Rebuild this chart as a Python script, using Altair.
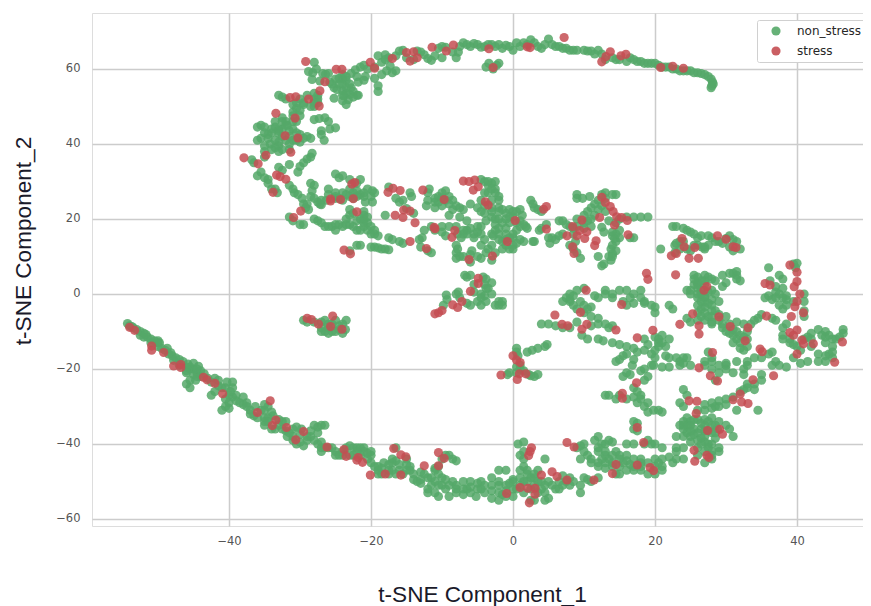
import altair as alt
import pandas as pd

top_arc = [(-18,63.8),(-17.5,63),(-16.5,63.5),(-16,64.8),(-15.5,65),(-15,63),(-14,62.5),(-13.5,64.8),(-13,64.5),(-12.5,63.8),(-12,62.8),(-11.5,62.3),(-11,63.5),(-10.5,65.5),(-10,66),(-10,63),(-9.5,65.8),(-8.5,64.5),(-8,63),(-7.7,64.5),(-7.5,66),(-7,67),(-6.5,66.5),(-6,66),(-5.5,66.8),(-5,66.5),(-4.5,65.8),(-4,66),(-3.5,66.5),(-3,66.5),(-2.5,66),(-2,66.5),(-1.5,65.5),(-1,66.3),(-0.5,66),(0,65),(0.5,67),(1,66),(1.5,67),(2,66.5),(2.5,67.8),(3,67),(3.5,66),(4,65.5),(4.5,66.5),(5,68),(5.5,66.5),(6,66),(6.5,66),(7,65.5),(7.5,65.5),(8,65),(8.5,65),(9,65),(10,65),(10.5,64.8),(11,64.8),(11.5,64),(12,65),(12.5,64),(13,62.5),(14,63),(14.5,62.5),(15,62.5),(16,62),(16.5,63),(17,62.5),(17.5,62),(18,62),(18.5,61.5),(19,61.5),(19.5,61.5),(20,61.5),(20.5,61),(21,60.5),(21.5,60.5),(22,60.5),(22.5,60),(23,60),(23.5,59.5),(24,59.5),(24.5,59.5),(25,59.5),(25.5,59),(26,59),(26.5,58.8),(27,58.5),(27.5,58),(27.9,57.3),(28.1,56.5),(28.2,56),(28,55.5),(27.9,55),(-3.8,60.5),(-3.4,61.5),(-2.8,60),(-2,61.5),(-2.3,61)]
upper_left = [(-28.8,59.3),(-28.2,59),(-28,61.8),(-27.7,60),(-28.3,57.2),(-27.2,56.8),(-26.8,58.8),(-26.4,58.6),(-26,58.8),(-25.8,56.5),(-25,57.3),(-24.5,57.5),(-24,57.4),(-23.5,57),(-25.2,55),(-24.8,54.5),(-24,54.2),(-23.5,55),(-22.8,55),(-22.5,54),(-23,53.2),(-23.8,52.8),(-23.2,51.8),(-22,53),(-21.8,56.5),(-22,58),(-22.8,58.8),(-22.2,59.8),(-21.5,60.5),(-21,61),(-20.8,58),(-21,57),(-19.5,57.5),(-19,55.5),(-19,54),(-18.5,58.5),(-17.8,59.5),(-17.3,60.8),(-17,59),(-16.5,59.5),(-25.2,52.2),(-24,51.5),(-23.5,50.5),(-21.8,53),(-24,56),(-23,56),(-25.5,56),(-20.5,60),(-19.5,60.5),(-18.5,61.8),(-18,62.5),(-19,63.5)]
left_lobe = [(-33,53),(-32.5,52.5),(-32,52),(-30.5,51),(-30,52),(-29,53),(-30.5,49.5),(-31,48.5),(-31,47.5),(-32,46),(-31.8,45),(-32.5,44),(-31.5,43.5),(-33.5,46),(-35.5,45),(-36,44.5),(-35,44.5),(-35,43),(-35.5,41.5),(-36,41),(-34.5,41.5),(-34,43),(-33,42.8),(-33,40.5),(-33.5,41),(-32.5,46),(-31,44),(-30.5,43),(-30,42.5),(-29.5,41.5),(-29,42),(-28.5,41.5),(-30,40.5),(-31.5,40),(-32.5,38.5),(-33.5,39),(-34,38.5),(-35,38),(-35,36.5),(-33,39.5),(-31.5,38.5),(-28.5,50),(-28,50),(-27.5,52),(-27.5,53),(-28,53.5),(-28,46.5),(-27.3,46.8),(-26.5,47),(-26,46),(-27,43.5),(-27,42.5),(-26.6,41),(-25.8,44),(-25,44.3),(-29,36),(-28.5,36.5),(-28.3,37.5),(-29.5,35),(-30,34),(-30.3,32.5),(-31.5,34.5),(-32.5,33),(-33,33.8),(-35.5,32.5),(-36,31.5),(-35,31),(-34.5,30.5),(-34.5,29.5),(-34,28),(-33.2,27),(-33.5,28),(-31.5,29),(-31,28),(-30.8,27),(-30.3,26.5),(-29.7,25.5),(-29.5,24),(-29,24),(-29.2,23),(-28.8,22.5),(-36.8,35.8),(-36.5,35),(-31,19.5),(-30,18.5),(-29.5,18.5),(-31.5,20.5)]
mid_left = [(-25,32),(-24.5,31),(-24,31.5),(-23,30.5),(-22,29.5),(-21.5,30.5),(-28.5,29.5),(-28,29),(-28.3,27.5),(-28.5,26),(-28,25.5),(-27.5,24.5),(-27,25),(-26.3,25),(-26,28),(-26,26.5),(-25,25.5),(-25,27),(-24,27),(-23.5,26.5),(-23,28),(-22.5,27),(-22,27.5),(-21.5,26.5),(-21,26),(-20.8,24.5),(-21,27),(-20.5,28),(-19.8,27.5),(-20,26),(-19.8,24.5),(-19.5,27),(-27,23.8),(-27.2,24),(-17.5,28.5),(-14.5,27),(-14.3,26),(-15.5,25),(-16,24.5),(-16.5,25.5),(-12,27),(-11.8,28),(-12,25),(-12.2,23.5),(-11,24.5),(-11,23),(-10.5,26),(-10,27),(-9.5,27.5),(-9,26),(-9,24),(-8.5,25),(-8,23.5),(-10,23.5),(-8.5,22.5),(-7.5,23),(-7,22.5),(-6,24),(-7.5,20.5),(-9,21),(-23,22.5),(-23,21),(-22,19.5),(-21,22),(-21,21),(-21,20),(-21,19),(-21,18),(-20.5,17),(-20,16),(-19.5,16),(-19,15.5),(-22.5,21.5),(-23.5,20),(-28,20),(-27.5,19.5),(-27,19),(-26.5,18),(-25.5,18),(-25,17),(-25,18.5),(-24.5,18.5),(-24,18),(-23.5,18.5),(-23,18.5),(-22.5,18),(-22,17),(-18,21),(-17.5,15),(-17,14.5),(-16,14),(-15.5,13.5),(-15,22.8),(-14,21.5),(-13.2,14.5),(-12.8,15),(-13,12.5),(-12,11.5),(-11.5,11),(-12.5,17),(-11.5,18),(-11,17),(-10,18),(-10,16.5),(-9.5,15.5),(-9,18),(-8,18),(-7.8,16),(-7.3,15),(-7,16),(-6.5,17),(-6,17.5),(-5.5,16),(-5.5,15),(-5,18),(-4.5,18),(-6.5,19.5),(-22,13),(-21.5,13),(-20,12.5),(-19.5,12.5),(-19,12.3),(-18.5,12),(-18,12),(-17.5,11.8),(-23,11.5),(-8,11),(-7.8,12),(-8,13),(-8,9.5),(-7.5,10),(-7,10),(-6,10.5),(-5.8,11.5),(-6,8.5),(-5,10),(-4.5,9.5),(-3.8,11),(-3,9),(-2.5,11),(-3.5,12)]
mid_centre = [(-4.5,30.5),(-4,30),(-3.5,30),(-3,29.5),(-2.5,30),(-2.5,28),(-2.5,27),(-2,26),(-2,25),(-4,27),(-4.5,25),(-5,23),(-4.5,22),(-4,21.5),(-3,22),(-2,23),(-1.5,22.5),(-1,21.5),(-0.5,22.5),(0,22),(0.5,22),(1,22.5),(1.3,21),(0,20.5),(1,19.5),(-2,20),(-2.5,20),(-3,20.5),(-3.8,19.5),(-2.5,18.5),(-2.5,17),(-2,16),(-2,17.5),(-3,16),(-2.8,15.5),(-2,14.5),(-1.5,14),(-1,13),(0,13),(0,15),(0,16),(0.5,17),(0.5,19),(1,18),(1.5,18.5),(1.8,18),(2,17.5),(1.5,14),(2.8,14),(3,14),(-3,13),(-4,14.5),(-4.5,13),(-1.5,12),(-0.5,12),(0,12),(-4.5,16),(2.5,25),(2.8,24),(3,23),(3.5,22.5),(4,22),(3.7,17),(4,17.5),(4.7,18.5),(7,19.5),(6.5,19.5),(7.5,18.5),(8,18),(8.5,17.5),(8.5,16),(9,20),(10,19),(11,20),(11.5,21),(10.5,19.5),(10,21),(10.5,22),(11,23),(11.5,24),(12,25),(12.5,26.5),(13,27),(14,26.5),(14.5,26.5),(9,26.5),(9,25.5),(9.8,25.5),(10.8,26),(13.5,19.5),(14.5,19),(15,20),(16,20.5),(17,20.5),(18,20.5),(19,20.5),(12.5,17.8),(12.8,16.5),(14,16.5),(15,17),(15,15),(16.5,15),(17,15),(5,15),(5.2,13.5),(5.5,15),(6,14.5),(6.5,15.5),(7,16),(8,13),(8.5,12),(8.8,14),(9,11),(9.5,9.5),(12,10),(13.8,12),(14,13),(14.5,14),(14.3,14.8),(14,10.7),(13.8,9),(13.5,10),(12.5,7.5),(12.8,8),(14,10),(14.5,11.5)]
mid_right = [(22.5,18),(23,18),(24,17.5),(24.5,17),(25,16.5),(25.5,16),(26,15),(26,13),(27,12),(27.5,13),(22.8,13),(23,13.5),(25,11.5),(27,12.5),(26.5,15.5),(23.5,14),(23.5,12),(22.8,11),(25.5,13),(26.6,12.5),(20.8,12),(27.5,15.5),(28,15),(28.5,14),(29,14),(30,14.8),(30.5,15.5),(31,14.5),(29.5,13.5),(30.5,12.5),(31.5,14),(32,12),(31,11.5),(24.5,12),(24,14)]
far_right = [(40,8.2),(39.5,8),(39.8,7),(36,7),(37.5,5),(38,4),(36.2,3.5),(37,2),(38,1.5),(37,0.5),(36,-0.5),(35.5,-1),(36.5,-1.5),(38,-1),(38.5,-1.5),(38.5,-3),(38,-4),(37.5,-3),(36.5,-6.5),(37,-7),(41,0),(41,-2),(41,-4.5),(41,-6),(38.5,-8),(38,-9),(38,-11),(38,-12),(39,-13),(40,-14),(40.5,-15),(39.5,-17),(40.5,-18.5),(41.5,-18),(41,-12),(42,-10.5),(43,-9.5),(44,-10),(44.5,-11),(45,-12),(44,-13),(45,-14),(44.5,-16),(45,-17),(44,-18),(44,-16.5),(43,-16),(43,-18),(46.5,-9.5),(46.5,-10.5),(46,-11.5),(45.5,-12),(41.5,-11.5),(42,-14)]
centre_right = [(25.5,5),(26,4.5),(26,3),(25.5,2.5),(27,5),(27.5,4.5),(28,4),(28.5,3.5),(26,1.5),(25,1),(24.5,1),(25,0),(26,0),(26,-1),(26.5,-2),(27,-1),(27.5,0.5),(28,1),(28.5,0),(28,-1.5),(29,-2),(28,-3),(27,-3.5),(26.5,-4),(26,-5),(27,-5),(28,-4.5),(28,-6),(27,-7),(26,-7),(28,-8),(25,-7.5),(24.5,-6.5),(28.5,-4.5),(29,-7),(29.5,-8),(29.5,-9),(30,-10),(30.5,-10.5),(31,-11),(31.5,-12),(32,-13),(32,-14.5),(32.5,-15),(33,-14),(33,-12),(33,-10),(33.5,-8),(34,-7),(34.5,-6.5),(35,-5.5),(31.5,-7.5),(32.5,-8),(30,-6),(29.5,5),(30.5,5.5),(31,5.5),(31.5,5),(31.5,6),(31.5,4),(32,3.5),(30,3),(29.5,2)]
centre_upper = [(22,-3),(22.5,-4),(20,-5),(20,-3.5),(19.5,-3),(18.5,-2),(18,-1),(17,-2.5),(16,-3),(15.5,-2),(16.5,-1),(17,0),(16,1),(15,1),(14,0),(13,1),(13,0),(14,-1),(12,-1),(11.5,-0.5),(8,0),(8,-1.5),(7.5,-1),(8,-2),(7,-2),(8.5,-3),(9,-4),(10,-5),(11,-3.5),(8.5,-0.5),(9,1),(9.5,-2),(10,-3),(10.5,-4),(11,-6),(12,-6.5),(12,-8),(13,-8),(13.5,-9),(14,-8.5),(11,-8.5),(8,-9),(7,-9),(6,-8.5),(5,-8),(4,-8),(9,-7.5),(18,1),(18.5,-2.5),(10,1.5)]
centre_lower = [(9.7,-11),(10.5,-12),(12,-12),(12.7,-12.5),(14,-13),(15,-13.5),(16,-14),(17,-14.5),(17.5,-15.5),(18.5,-15),(19.5,-16),(20,-17),(16,-16),(15.5,-16.5),(15,-17.5),(14.5,-18),(17,-17.5),(16.8,-19),(16,-21),(15.5,-22),(16.5,-21.5),(18,-20.5),(18.5,-20),(19,-22),(18.5,-23),(19.5,-19),(19,-13.5),(18.5,-12),(20,-11.5),(20.5,-12),(20.5,-13),(20.5,-14),(21,-11),(21,-13),(20,-15),(21.5,-14),(22,-12),(19.8,-19),(21,-19.5),(22,-19.5),(21.5,-16.5),(22,-17),(23,-17),(23.5,-18),(24,-18.5),(24,-17),(23.5,-19),(24.5,-17),(25,-19),(27.5,-15.5),(28,-17),(28,-18),(27,-18),(27,-19),(28,-20),(29,-21),(30,-20),(30,-18.5),(29,-19),(28.5,-23),(30,-19),(31,-21),(34,-17),(35,-17),(36,-16),(36.5,-15.5),(33,-18),(32.5,-20),(33,-19),(31.5,-18),(37,-18),(37.5,-19),(38.5,-19.5),(36.5,-19),(35,-21.5),(32.5,-21.5),(34,-24),(33,-25),(34,-25.5),(35,-23)]
diagonal = [(24,-25.5),(24.5,-27),(23.5,-29),(24,-30),(26,-31),(27,-31),(28,-30.5),(28.5,-30),(29,-30),(30,-29.5),(30,-28),(29,-28.5),(31,-27.5),(32,-26),(32.5,-25.5),(33,-24),(27,-29.5),(28,-29),(34.5,-31),(31.5,-31),(13,-27),(13.5,-27),(14.5,-28),(15,-27),(16,-28),(17,-27.5),(18,-27),(17,-25),(17.5,-26),(18,-28),(17.5,-29),(18.5,-30),(19,-29),(19,-31.5),(19.8,-31),(20.5,-31),(21,-31.5),(17.5,-34.5),(17,-34),(17.5,-36.5),(17,-36)]
bottom_right = [(23.5,-35),(24,-34),(24.5,-33),(25,-34),(26,-33.5),(27,-33.5),(28,-33),(24,-36),(25,-35),(25.5,-36),(26,-37),(27,-35),(28,-35),(28.5,-35),(29,-34),(24,-38),(25,-38),(25,-39.5),(26,-39),(27,-38),(28,-37),(27.5,-40),(28,-40),(28,-42),(29,-42),(26,-41),(27,-42),(28.5,-38.5),(30,-35),(30.5,-36),(31,-38),(23,-38),(24,-41),(29,-41),(26,-43),(24,-44),(23,-44),(27,-45),(28,-44)]
bottom_band = [(12,-38),(11.5,-39),(12.5,-40),(13,-40),(13.5,-39),(14,-39.5),(12,-41),(13,-42),(10,-40),(9.5,-40.5),(9,-41),(10,-42),(10.5,-43),(11,-44),(9.5,-44),(12,-42),(16,-40),(17,-40),(18.5,-40),(19,-39),(19.5,-40),(20,-40),(21,-41),(23,-41),(23,-42),(22,-43.5),(21,-44),(20,-44),(19,-45),(18,-45),(18,-44),(17,-44),(16,-43),(15,-43),(15,-46),(14,-45),(14.5,-42),(13.5,-44),(13,-45),(12,-45),(11,-45),(16,-47),(17,-47),(18,-47),(19,-48),(20,-48),(21,-46),(21,-47),(22.5,-45),(12,-46),(15,-48),(14.5,-48),(-4.5,-50),(-4,-51),(-3,-51),(-3,-52.5),(-2,-53),(-2,-51),(-1,-51),(0,-50),(0,-52),(-1.5,-53.5),(-3,-54.5),(-2,-55),(0,-49.5),(0.5,-52),(1,-49),(1,-47),(1.5,-46),(1.5,-44),(2,-47),(2.5,-49),(3,-49),(3.5,-47),(4,-50),(4.5,-51),(3.5,-53),(4.5,-53),(4.5,-55),(5,-54.5),(5,-50),(5.5,-51),(6,-52),(6.5,-52),(7,-51),(7.5,-50),(8,-49),(8.5,-50),(9.5,-51),(9.5,-53),(10,-49),(10.5,-49.5),(11,-50),(12,-49),(4.5,-44),(-1,-47),(-2,-47),(-3,-49),(0.7,-40),(1.5,-39.5),(1,-43),(1.5,-42),(2,-50),(2.5,-55),(3,-55),(-1,-54),(0,-54)]
lower_band = [(-19,-47),(-18.5,-46.5),(-17.5,-47),(-17,-47),(-16.5,-48),(-16,-47),(-15.5,-48),(-15,-47),(-14.5,-47),(-14,-48),(-14,-49.5),(-13.5,-50),(-13,-49.5),(-13,-50.5),(-12,-49),(-11.5,-49),(-11,-50),(-11,-47),(-10.5,-48),(-10,-44),(-9.5,-43),(-9,-43),(-8.5,-44),(-8,-44.5),(-12,-52),(-12,-53),(-11,-53),(-10,-51),(-9.5,-49.5),(-9.5,-52),(-9,-54),(-8,-52),(-8,-51),(-8.5,-50),(-7,-52),(-7,-50),(-7,-53.5),(-6.5,-52),(-6,-50),(-6,-53),(-5,-52),(-5,-50.5),(-5.2,-54),(-4,-53),(-10.5,-54),(-10,-49),(-17,-45),(-16.5,-44.5),(-11,-46.5),(-10.5,-46)]
lower_arc = [(-54.3,-7.9),(-54,-8.5),(-53.5,-9),(-53,-9.5),(-52.5,-10),(-52.5,-11),(-52,-10.5),(-52,-11.5),(-51.5,-11.5),(-51,-12),(-50.5,-12.5),(-50,-13),(-50,-14),(-49.8,-13),(-49.5,-14.5),(-49,-15),(-48.5,-16),(-48,-16.5),(-47.5,-17),(-47,-17.5),(-47,-19),(-46.5,-18),(-46,-19.5),(-46,-20.5),(-45.5,-20),(-45,-20),(-45.5,-19.5),(-45,-21.5),(-44.5,-21),(-44.5,-22),(-44,-20.5),(-44.5,-20),(-46,-21),(-45.5,-23),(-46,-24),(-45.5,-25),(-44,-22),(-43,-22.5),(-42.5,-23.5),(-41.5,-24.5),(-41,-25),(-42,-26),(-42.5,-27),(-40,-27),(-39.5,-27.5),(-39.5,-25),(-39.5,-23.5),(-40.5,-25),(-40,-29),(-40.5,-30),(-41,-31),(-40,-30.5),(-39,-27),(-38.5,-29),(-38,-29.5),(-37.5,-30),(-37,-31),(-37,-32),(-36.5,-32.5),(-35.5,-31),(-35,-31),(-35,-33),(-34.5,-30),(-35,-29.5),(-34.5,-33),(-35,-34),(-35,-35),(-34.5,-34),(-34,-36),(-33.5,-36),(-33,-35),(-32.5,-36),(-32.5,-34),(-32,-34),(-32,-36.5),(-31.5,-37),(-31,-36),(-31,-38),(-31,-39),(-30.5,-40),(-30,-37.5),(-30,-39.5),(-29,-39),(-29,-38),(-28.5,-38),(-28,-39),(-27.5,-40),(-27,-41),(-27,-42),(-26.5,-41),(-28,-35),(-27.5,-35.5),(-27,-35),(-26.5,-35),(-27.5,-37),(-26,-41),(-25,-42),(-25,-43),(-24.5,-43),(-24,-43),(-23.5,-41),(-23,-43),(-22.5,-41),(-22,-41),(-21.5,-41),(-21,-41),(-21,-42),(-20.5,-42.5),(-22,-42),(-20.5,-44),(-20,-45),(-19.5,-46),(-19,-48),(-18.5,-48),(-17.5,-48),(-16.5,-41),(-17,-44),(-15,-44)]
islands = [(-29.5,-7),(-29,-7.5),(-28,-7.5),(-27,-7.5),(-26.5,-7),(-26,-8),(-25.5,-8),(-25,-7),(-26,-9),(-25.5,-10),(-26.5,-10),(-27,-10),(-25,-10),(-26,-10.5),(-24.5,-9.5),(-24,-10.5),(-23.5,-7),(-24,-8),(-24.5,-8.5),(-27,-9),(-23.6,-9.5),(-6.8,5),(-6.5,4.5),(-6,5),(-5.5,2.5),(-4.2,4.5),(-3.8,4),(-4,2.5),(-3.5,1.5),(-3,0),(-4,-0.5),(-3.8,1.5),(-3,3),(-7.7,0.5),(-7.5,-1),(-8,0),(-9.4,-0.3),(-9.3,-1.5),(-9.8,-3),(-6.5,-2.5),(-6,-3),(-5,-2),(-4.5,-1),(-5.5,0.5),(-4.5,0),(-4.5,-3),(-2,-3),(-2,-2),(-1.5,-3),(-2.5,-3),(-1.5,-2),(-3.8,-2),(0.5,-14.5),(0.5,-15.5),(0.7,-16.5),(1,-19),(0.5,-19.5),(1.5,-20.5),(0.5,-21),(-0.5,-21),(1,-20),(-0.8,-21.5),(3,-22),(3.5,-21.5),(2,-15.5),(2.7,-15),(3.5,-14.5),(4.5,-14),(4.8,-13.5),(2.2,-21.5),(2.5,-21.8)]
dense_lower = [(-53.7,-8.7),(-51.7,-10.8),(-51,-13),(-50,-12.5),(-48.7,-14.5),(-48.2,-15.7),(-47.8,-17.7),(-45.8,-18.7),(-45,-18.5),(-44.3,-19.3),(-44.7,-23),(-43.5,-21.3),(-42,-22.5),(-41.5,-23),(-40.3,-23.5),(-40.5,-28),(-39.8,-26),(-39,-28.5),(-38,-27.5),(-37.5,-29),(-36.3,-30),(-36,-33),(-34,-31.5),(-33.8,-32.5),(-33,-33.5),(-31.8,-38),(-30.5,-35.5),(-29.8,-36),(-29.5,-40.5),(-28.5,-36.5),(-27,-39.5),(-25.5,-41),(-24,-42),(-23,-40.5),(-22.5,-43),(-21.5,-43),(-20,-43),(-20,-42),(-19,-46),(-18.2,-45),(-17.5,-45.5),(-16,-45.5),(-15,-45.5),(-14.5,-46),(-13,-47.5),(-12.5,-48),(-11.5,-51),(-10.5,-51),(-9,-51),(-8,-53),(-6,-51.5),(-4.5,-52)]
dense_upper = [(-33,44),(-33.5,44.5),(-32.5,42),(-32,41),(-31.5,42),(-31,41),(-30.5,41),(-31,46),(-30.5,46),(-30,47.5),(-30,49),(-29.5,50.5),(-29.5,51),(-31,50.5),(-32,45),(-32.5,47),(-33,43.5),(-34,44),(-34.5,42.5),(-34.2,40),(-33,38),(-35,39.5),(-28,52),(-28,51),(-27.5,51),(-24,58.5),(-24.5,56),(-23.5,53.5),(-22.5,52.5),(-23.5,58),(-24,53)]
dense_right = [(24.5,-35),(25.5,-33.5),(26.5,-34.5),(27.5,-34),(26.5,-36),(27,-36.5),(24.5,-37),(25.5,-37.5),(26.5,-38.5),(27.5,-36.5),(28.5,-37),(27,-39.5),(27.5,-41),(26.5,-40),(28,-43),(25,-36.5),(24,-35),(28.8,-36),(26,2.5),(26.5,1),(27,2.5),(27,3.5),(26.5,3.5),(25.5,4),(26.5,0),(27,-2),(27.5,-2.5),(27,-0.5),(26,-3),(26.5,-6),(27.5,-6),(29,-5.5),(30.5,-8),(31,-9.5),(31.5,-10),(32,-11),(32.5,-11.5),(31,-13),(28,-7.5),(39.5,-2),(38.5,-0.5),(37.5,0),(37,-1),(42,-12),(43.5,-11),(44,-11.5),(39,-12),(39.5,-13.5),(45,-15.5)]
dense_bottom = [(13,-43),(12.5,-44),(14,-43),(15,-44),(16,-44.5),(16.5,-45.5),(17,-46),(18,-46),(15.5,-45),(14,-46),(13,-46.5),(20,-46),(20.5,-45),(3,-48),(2,-48),(3,-51),(3.5,-50),(2.5,-52),(4,-52),(1.5,-53),(-1,-52.5),(-0.5,-50.5),(-2,-50),(1,-51),(1.5,-50),(6.5,-50),(7,-48.5),(8,-51)]
dense_mid = [(-1,14.5),(-0.5,15),(0.5,13.5),(1,14.5),(-1,16),(-1,17.5),(-0.5,19),(-0.5,20.5),(-1.5,19),(-1,20),(-2,22),(-3,23),(-3,25),(-3.5,27),(-3.5,29),(-3,28),(-4,23.5),(-26,18),(-21.5,20),(-20.5,19),(-20.5,20.5),(-21.5,17),(-20,18),(-19.5,17),(-25,26),(-24.5,25.5),(-23,26),(-22.5,25.5),(-22,26),(-24,25),(-11,25.5),(-10.5,24.5),(-10,25.5),(-9.5,25),(9,18),(10,17.5),(11,18),(13,25.5),(12.5,23.5),(13,22),(12,22.5),(14.5,16),(14,15.5),(-6.5,16),(-7,17),(-5,16.5)]

red_upper = [(-29.2,62),(-24.9,59.9),(-24.1,59.9),(-26.5,56.6),(-27.2,54.2),(-28.8,52),(-31.4,52.4),(-30.6,52.6),(-27.3,50.1),(-33.4,48.2),(-30.7,46.9),(-32.1,42.2),(-30.3,41.6),(-31.3,37.8),(-34.8,37),(-37.9,36.3),(-35.9,34.7),(-33.3,31.7),(-32.8,31.3),(-32,30.6),(-33.8,27.1),(-20.1,61.8),(-19.5,60.2),(-17,62.8),(-15,64.4),(-14,64.6),(-14.5,62.1),(-13.5,63),(-11.4,65.8),(-9.4,64.8),(-8.4,66.4),(-3.4,65.4),(-2.8,60.4),(2.4,65.7),(2,65.9),(7.2,68.4),(12.5,61.9),(13.1,63.3),(13.7,64.6),(15.2,63.5),(15.9,63.9),(20.8,60.4),(22.5,60.7),(24,60.2)]
red_middle = [(-22.3,29.7),(-22.7,29.3),(-25.7,25.3),(-25.7,24.8),(-24.3,25.2),(-22.5,25.4),(-22,21.9),(-29.9,22.1),(-30.9,20.4),(-17.6,27.1),(-16.9,28.2),(-15.9,27.6),(-12.7,27.7),(-9.7,25.2),(-16.6,21),(-15.4,22.4),(-15.5,20.4),(-14.5,22.1),(-13.8,19),(-14.5,14),(-11.1,17.8),(-11,17.4),(-8.2,16.9),(-8.6,15.1),(-12.2,12.1),(-23.8,11.7),(-22.9,10.7),(-6.2,9.2),(-7,30.1),(-5.4,30.4),(-6.2,30),(-5.6,27.7),(-4.9,28.6),(-3.9,24.6),(-3.5,23.7),(0.3,19.6),(-0.8,14),(-2.9,10.1),(4.3,22.6),(4.7,23.3),(4.7,17.3),(9.7,19.7),(12.2,20.4),(12.5,25.8),(13,24.4),(13.7,23.3),(14.1,22),(14.6,20.6),(15.3,20.4),(16.1,19.6),(14.3,18.4),(16.2,15.8),(8.4,18),(9.4,16.9),(10.4,16.6),(7.6,15.5),(9,15.5),(10.1,14.8),(11.7,14.2),(11.5,12.9),(8.4,12.6),(8.6,10.8),(23.8,14.8),(24.1,12.6),(25.6,12.4),(22.3,10.2),(23,10.8),(24.8,9.5),(26.1,9.5),(28.8,15.5),(30,14.6),(31,12.6),(31.4,12.4)]
red_right = [(39,7.7),(40,5.8),(40,3.3),(39.6,1.95),(40.4,0),(40,-2),(39.7,-3.4),(40.9,-5),(39.2,-6),(35.5,2.8),(36.2,2.4),(35.7,-5.9),(26.9,1),(27.3,2),(25.3,-5.3),(23.5,-8.1),(26.2,-8.5),(26.2,-10.7),(29,-6.1),(30.6,-8.7),(33.1,-9),(32.7,-12.5),(39,-10.3),(40,-9.6),(39.5,-11),(40.7,-12.3),(40.9,-13.3),(42.3,-13.3),(46.4,-12.8),(40,-16),(45.3,-18.2),(34.8,-14.7),(35.1,-15.4),(36.7,-21.8),(33.8,-22.9),(28.1,-15.6),(26.2,-19.7),(27.8,-21.8),(28.8,-23.2),(18.8,5.5),(19,3.9),(22.9,5.1),(15.3,-2.8),(10.3,1),(9.5,-4.9),(5.9,-5.6),(6.9,-8.1),(7.7,-8.5),(10.4,-8.1),(9.7,-9.4),(14.5,-9.6),(17.5,-11.7),(19.7,-9.7),(0,-16.5),(0.5,-17.6),(1,-18.3),(-1.7,-21.6),(0.6,-22.8),(0.9,-21.3),(1.8,-21.3),(17.4,-23.7),(15.4,-26.5),(15.4,-27.8),(24.8,-28.5),(25.9,-28.6),(25.8,-31.9),(31,-28.2),(32,-26.7),(32.2,-28.8),(33.1,-29.2),(17.5,-35.6),(18.4,-39.6),(27.4,-36.4),(29.1,-36.1),(29.5,-37.4),(25.5,-41.7),(25.6,-44.6),(27.3,-43),(27.6,-43.6),(14.5,-45.5),(14,-47.9),(17.5,-45.6),(19.3,-46.3),(19.8,-47.1),(11.4,-49.6),(7.6,-49.6),(7.6,-39.6),(8.6,-40.8),(2.6,-41),(2.4,-42),(2.2,-43.1),(4,-48.3),(5.5,-47.4),(6.2,-48.7),(1,-51.6),(2.1,-51.8),(3.1,-51.8),(3.1,-53.4),(2.3,-55.7),(-0.9,-53.2)]
red_arc = [(-54,-8.9),(-53.3,-9.7),(-50.9,-13.9),(-50.9,-15),(-49.2,-15.6),(-47.8,-19.2),(-46.8,-18.8),(-46.8,-19.6),(-43.6,-22.2),(-43.1,-22.9),(-42,-23.8),(-40.9,-26.6),(-36,-31.6),(-34.2,-28.5),(-33.4,-33.6),(-33.9,-35.1),(-31.9,-35.6),(-29.5,-36.7),(-30.6,-38.9),(-26.2,-40.8),(-23.8,-41.5),(-23.5,-43.3),(-22,-44.3),(-21.2,-44.9),(-21.8,-43.6),(-20.1,-48.3),(-18,-48),(-16.8,-41.2),(-15.8,-42.9),(-15.1,-43.4),(-15.8,-48.3),(-12.5,-45.8),(-10.5,-42.3),(-9.7,-43.8),(-10.5,-45.8),(-29,-6.5),(-28.4,-6.8),(-27.4,-8),(-25.4,-5.9),(-25.7,-8.7),(-24.1,-9.4),(-11,-5.3),(-10.5,-5),(-10,-4.4),(-8.5,-2.9),(-7.8,-3.6),(-7.2,-2),(-6,0.7),(-4.9,4.2),(-4.9,2.8)]

green_groups = [top_arc, upper_left, left_lobe, mid_left, mid_centre, mid_right, far_right, centre_right, centre_upper, centre_lower, diagonal, bottom_right, bottom_band, lower_band, lower_arc, islands, dense_lower, dense_upper, dense_right, dense_bottom, dense_mid]
red_groups = [red_upper, red_middle, red_right, red_arc]
labels = ["non_stress", "stress"]
colors = ["#55a868", "#c44e52"]
x_ticks = [-40, -20, 0, 20, 40]
y_ticks = [-60, -40, -20, 0, 20, 40, 60]
x_title = "t-SNE Component_1"
y_title = "t-SNE Component_2"

rows = []
for k, groups in enumerate([green_groups, red_groups]):
    for g in groups:
        for px, py in g:
            rows.append({"x": px, "y": py, "label": labels[k], "o": k})
df = pd.DataFrame(rows)

GRID = "#cccccc"
axis_common = dict(
    grid=True, gridColor=GRID, gridWidth=1.5, domain=False, ticks=False,
    labelFont="DejaVu Sans", labelFontSize=11.5, labelColor="#555555",
    titleFont="Liberation Sans", titleFontSize=22.6, titleFontWeight="normal", titleColor="#1a1a2a",
)

chart = alt.Chart(df).mark_circle(size=84, opacity=0.85).encode(
    x=alt.X("x:Q", scale=alt.Scale(domain=[-59.3, 50.28], nice=False, zero=False),
            axis=alt.Axis(values=x_ticks, title=x_title, labelPadding=9, titleX=390, titleY=75,
                          titleAlign="center", titleBaseline="alphabetic", **axis_common)),
    y=alt.Y("y:Q", scale=alt.Scale(domain=[-61.87, 74.93], nice=False, zero=False),
            axis=alt.Axis(values=y_ticks, title=y_title, labelPadding=12, titleX=-62, titleY=227.5,
                          titleAlign="center", titleBaseline="alphabetic", **axis_common)),
    color=alt.Color("label:N", scale=alt.Scale(domain=labels, range=colors),
                    legend=alt.Legend(title=None, orient="none", legendX=665, legendY=7,
                                      fillColor="white", strokeColor="#d0d0d0", cornerRadius=2, padding=5,
                                      symbolSize=84, symbolOpacity=0.9, symbolOffset=8, labelOffset=15,
                                      rowPadding=8, labelFont="DejaVu Sans", labelFontSize=12, labelColor="#262626")),
    order="o:Q",
).properties(
    width=778, height=513,
    autosize=alt.AutoSizeParams(type="none"),
    padding={"left": 84, "top": 5, "right": -7, "bottom": 80},
).configure_view(stroke=GRID, strokeWidth=1.5).configure(background="white")

chart.save("out.html", embed_options={"renderer": "svg", "actions": False})
